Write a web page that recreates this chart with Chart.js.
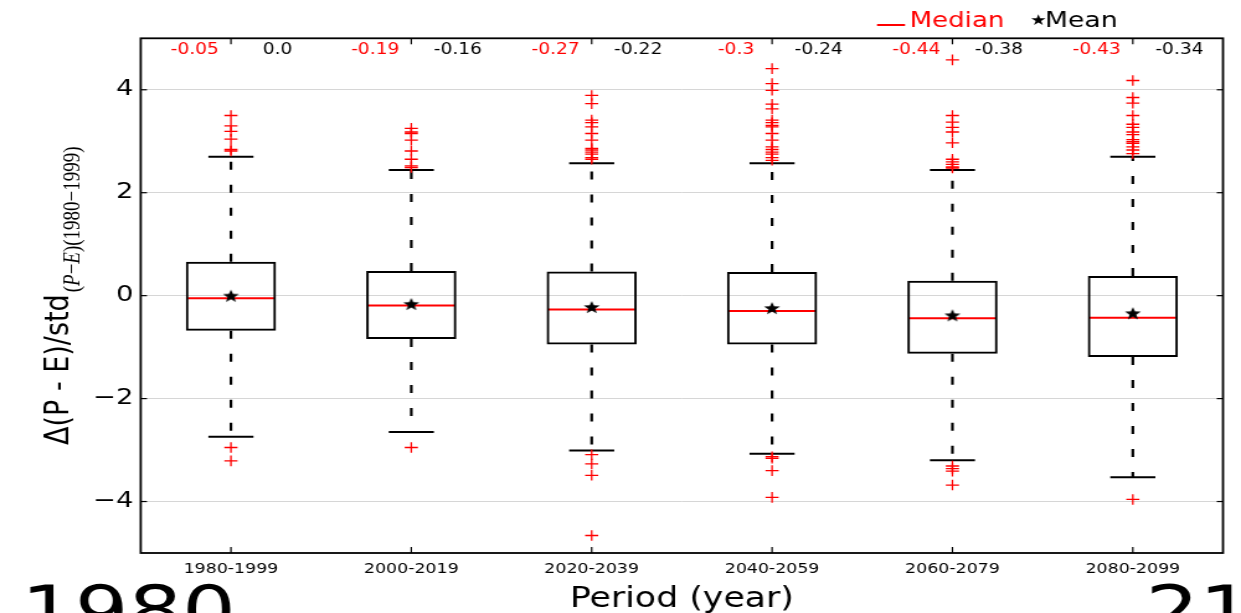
<!DOCTYPE html>
<html><head><meta charset="utf-8">
<script src="https://cdn.jsdelivr.net/npm/chart.js@4.4.1/dist/chart.umd.min.js"></script>
<style>
html,body{margin:0;padding:0;background:#fff;overflow:hidden;width:1241px;height:613px;}
#wrap{position:absolute;left:0;top:0;width:1000px;height:613px;transform:scaleX(1.241);transform-origin:0 0;}
canvas{display:block;}
</style></head><body>
<div id="wrap"><canvas id="c" width="1000" height="613"></canvas></div>
<script>
// ---- data ----
const categories = ['1980-1999','2000-2019','2020-2039','2040-2059','2060-2079','2080-2099'];
const q1 = [-0.68, -0.84, -0.95, -0.95, -1.13, -1.19];
const q3 = [0.66, 0.48, 0.47, 0.46, 0.29, 0.38];
const medians = [-0.05, -0.19, -0.27, -0.3, -0.44, -0.43];
const means = [0.0, -0.16, -0.22, -0.24, -0.38, -0.34];
const whiskerLow = [-2.74, -2.65, -3.01, -3.07, -3.20, -3.53];
const whiskerHigh = [2.70, 2.44, 2.57, 2.57, 2.44, 2.70];
const outliers1 = [3.50, 3.30, 3.19, 3.04, 2.84, 2.81, -2.95, -3.21];
const outliers2 = [3.25, 3.18, 3.15, 3.02, 2.81, 2.65, 2.52, 2.49, -2.95];
const outliers3 = [3.89, 3.73, 3.41, 3.36, 3.28, 3.15, 3.02, 2.86, 2.83, 2.79, 2.75, 2.68, 2.65, -3.09, -3.27, -3.49, -4.66];
const outliers4 = [4.41, 4.12, 3.99, 3.72, 3.63, 3.41, 3.36, 3.31, 3.28, 3.15, 3.02, 2.89, 2.84, 2.79, 2.75, 2.68, 2.63, -3.13, -3.16, -3.40, -3.92];
const outliers5 = [4.58, 3.50, 3.37, 3.27, 3.18, 2.97, 2.65, 2.60, 2.55, 2.50, 2.48, -3.31, -3.36, -3.41, -3.68];
const outliers6 = [4.18, 3.85, 3.74, 3.50, 3.33, 3.27, 3.18, 3.13, 3.03, 2.99, 2.96, 2.89, 2.83, 2.76, -3.96];
const outliers = [outliers1, outliers2, outliers3, outliers4, outliers5, outliers6];
const yTicks = [-4, -2, 0, 2, 4];
const yMin = -5, yMax = 5;
const xTitle = 'Period (year)';
const yTitleMain = '\u0394(P - E)/std';
const legendMedian = 'Median';
const legendMean = 'Mean';
const sideLabels = ['1980', '21'];

// ---- helpers ----
const FONT = "'DejaVu Sans', sans-serif";
function fmt(v){ return Number.isInteger(v) ? v.toFixed(1) : String(v); }
function makeStar(R){
  const s = Math.ceil(R*2+2);
  const cv = document.createElement('canvas'); cv.width = s; cv.height = s;
  const g = cv.getContext('2d');
  g.translate(s/2, s/2 + R*0.1);
  g.beginPath();
  for (let k=0;k<10;k++){
    const r = (k%2) ? R*0.42 : R;
    const a = -Math.PI/2 + k*Math.PI/5;
    g.lineTo(r*Math.cos(a), r*Math.sin(a));
  }
  g.closePath(); g.fillStyle = '#000'; g.fill();
  return cv;
}
const starImg = makeStar(6.8);

const outlierPoints = [];
outliers.forEach((arr,i)=>arr.forEach(v=>outlierPoints.push({x: categories[i], y: v})));
const meanPoints = means.map((v,i)=>({x: categories[i], y: v}));

const extras = {
  id: 'boxExtras',
  beforeDatasetsDraw(chart){
    const {ctx, scales:{x, y}} = chart;
    const catW = x.getPixelForValue(1) - x.getPixelForValue(0);
    ctx.save();
    categories.forEach((c,i)=>{
      const cx = x.getPixelForValue(i);
      ctx.strokeStyle = '#000'; ctx.lineWidth = 2.2;
      ctx.setLineDash([8, 15]);
      ctx.beginPath(); ctx.moveTo(cx, y.getPixelForValue(q3[i])); ctx.lineTo(cx, y.getPixelForValue(whiskerHigh[i])); ctx.stroke();
      ctx.beginPath(); ctx.moveTo(cx, y.getPixelForValue(q1[i])); ctx.lineTo(cx, y.getPixelForValue(whiskerLow[i])); ctx.stroke();
      ctx.setLineDash([]);
      ctx.lineWidth = 2;
      const hw = catW*0.125;
      [whiskerHigh[i], whiskerLow[i]].forEach(v=>{
        const py = y.getPixelForValue(v);
        ctx.beginPath(); ctx.moveTo(cx-hw, py); ctx.lineTo(cx+hw, py); ctx.stroke();
      });
      const bw = catW*0.25;
      const pm = y.getPixelForValue(medians[i]);
      ctx.strokeStyle = '#ff0000'; ctx.lineWidth = 2;
      ctx.beginPath(); ctx.moveTo(cx-bw+1.5, pm); ctx.lineTo(cx+bw-1.5, pm); ctx.stroke();
    });
    ctx.restore();
  },
  afterDraw(chart){
    const {ctx, chartArea:a, scales:{x, y}} = chart;
    const catW = x.getPixelForValue(1) - x.getPixelForValue(0);
    ctx.save();
    // frame
    ctx.strokeStyle = '#000'; ctx.lineWidth = 1.8;
    ctx.strokeRect(a.left, a.top, a.right-a.left, a.bottom-a.top);
    // inner ticks
    ctx.lineWidth = 1.2;
    categories.forEach((c,i)=>{
      const cx = x.getPixelForValue(i);
      ctx.beginPath(); ctx.moveTo(cx, a.top); ctx.lineTo(cx, a.top+6); ctx.stroke();
      ctx.beginPath(); ctx.moveTo(cx, a.bottom); ctx.lineTo(cx, a.bottom-6); ctx.stroke();
    });
    yTicks.forEach(v=>{
      const py = y.getPixelForValue(v);
      ctx.beginPath(); ctx.moveTo(a.left, py); ctx.lineTo(a.left+5, py); ctx.stroke();
      ctx.beginPath(); ctx.moveTo(a.right, py); ctx.lineTo(a.right-5, py); ctx.stroke();
    });
    // median / mean annotations
    ctx.font = '15px ' + FONT; ctx.textAlign = 'center'; ctx.textBaseline = 'alphabetic';
    categories.forEach((c,i)=>{
      const cx = x.getPixelForValue(i);
      ctx.fillStyle = '#ff0000'; ctx.fillText(fmt(medians[i]), cx - catW*0.2, a.top + 16);
      ctx.fillStyle = '#000'; ctx.fillText(fmt(means[i]), cx + catW*0.258, a.top + 16);
    });
    // legend
    ctx.strokeStyle = '#ff0000'; ctx.lineWidth = 2;
    ctx.beginPath(); ctx.moveTo(706.7, 25); ctx.lineTo(729.3, 25); ctx.stroke();
    ctx.font = '21px ' + FONT; ctx.textAlign = 'left'; ctx.textBaseline = 'alphabetic';
    ctx.fillStyle = '#ff0000'; ctx.fillText(legendMedian, 733, 26.7);
    ctx.fillStyle = '#000';
    ctx.font = '15px ' + FONT; ctx.textBaseline = 'middle'; ctx.fillText('\u2605', 830, 21.5);
    ctx.font = '21.5px ' + FONT; ctx.textBaseline = 'alphabetic'; ctx.fillText(legendMean, 842, 26.7);
    // x title
    ctx.font = '28px ' + FONT; ctx.textAlign = 'center';
    ctx.fillText(xTitle, (a.left + a.right)/2, 607);
    // y title
    ctx.font = '27px ' + FONT;
    const wMain = ctx.measureText(yTitleMain).width;
    const subParts = [['(', false], ['P', true], ['\u2212', false], ['E', true], [')(1980\u22121999)', false]];
    const subFont = "19px 'Liberation Serif', serif";
    let wSub = 0;
    subParts.forEach(p=>{ ctx.font = (p[1]?'italic ':'') + subFont; wSub += ctx.measureText(p[0]).width; });
    const total = wMain + 2 + wSub;
    ctx.translate(48, (a.top + a.bottom)/2 + total/2);
    ctx.rotate(-Math.PI/2);
    ctx.textAlign = 'left'; ctx.textBaseline = 'middle';
    ctx.font = '27px ' + FONT; ctx.fillText(yTitleMain, 0, 0);
    let px = wMain + 2;
    subParts.forEach(p=>{
      ctx.font = (p[1]?'italic ':'') + subFont;
      ctx.fillText(p[0], px, 11);
      px += ctx.measureText(p[0]).width;
    });
    ctx.setTransform(1,0,0,1,0,0);
    // large side labels at bottom
    ctx.font = '68px ' + FONT; ctx.textAlign = 'left'; ctx.textBaseline = 'alphabetic'; ctx.fillStyle = '#000';
    ctx.fillText(sideLabels[0], 17, 634);
    ctx.fillText(sideLabels[1], 923, 634);
    ctx.restore();
  }
};

new Chart(document.getElementById('c'), {
  type: 'bar',
  data: {
    labels: categories,
    datasets: [
      {
        type: 'line', label: 'Mean', data: meanPoints, showLine: false,
        pointStyle: starImg, pointRadius: 7, pointHoverRadius: 7, order: 1
      },
      {
        type: 'line', label: 'Outliers', data: outlierPoints, showLine: false,
        pointStyle: 'cross', pointRadius: 5.3, pointHoverRadius: 5.3,
        pointBorderColor: '#ff0000', pointBorderWidth: 1.3, pointBackgroundColor: '#ff0000', order: 2
      },
      {
        type: 'bar', label: 'Box', data: q1.map((v,i)=>[v, q3[i]]),
        backgroundColor: 'rgba(255,255,255,0)', borderColor: '#000', borderWidth: 2,
        borderSkipped: false, barPercentage: 0.5, categoryPercentage: 1.0, order: 3
      }
    ]
  },
  options: {
    responsive: false, maintainAspectRatio: false, animation: false, events: [],
    layout: { padding: { top: 38.3, right: 14.5, left: 0, bottom: 0 } },
    plugins: { legend: { display: false }, tooltip: { enabled: false } },
    scales: {
      x: {
        offset: true,
        grid: { display: false, drawTicks: false }, border: { display: false },
        ticks: { color: '#000', font: { family: FONT, size: 14 }, padding: 8, maxRotation: 0 },
        afterFit: s => { s.height = 60; }
      },
      y: {
        min: yMin, max: yMax,
        grid: { color: '#d6d6d6', lineWidth: 1, drawTicks: false }, border: { display: false },
        ticks: { color: '#000', font: { family: FONT, size: 22 }, padding: 6,
                 callback: v => String(v).replace('-', '\u2212') },
        afterBuildTicks: s => { s.ticks = yTicks.map(v => ({ value: v })); },
        afterFit: s => { s.width = 113.4; }
      }
    }
  },
  plugins: [extras]
});
</script>
</body></html>
